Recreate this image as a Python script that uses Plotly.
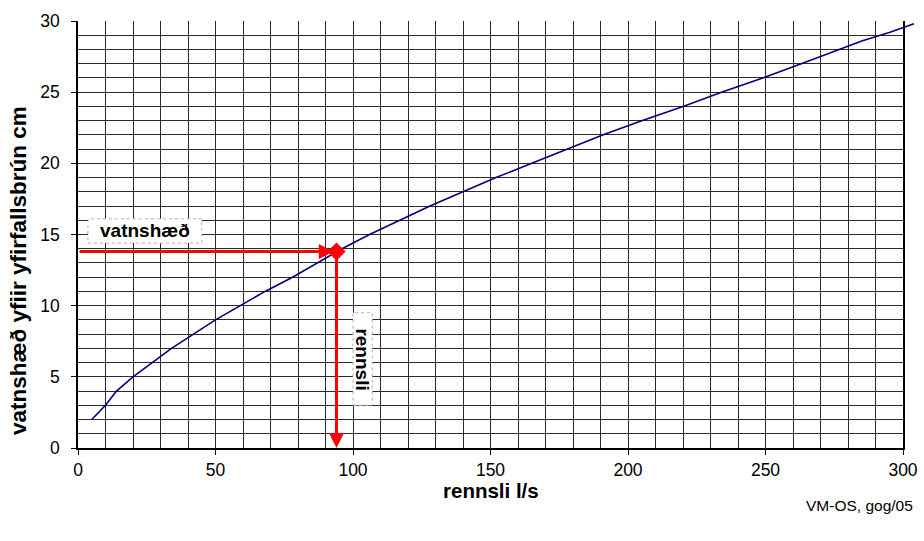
import plotly.graph_objects as go

# discharge (l/s) and water level above weir crest (cm)
rennsli = [5, 10, 14, 20, 27, 34, 42, 50, 59, 68, 78, 87, 96, 106, 117, 128, 140,
           152, 165, 178, 191, 205, 220, 234, 249, 263, 277, 285, 295, 304]
vatnshaed = [2, 3, 4, 5, 6, 7, 8, 9, 10, 11, 12, 13, 14, 15, 16, 17, 18,
             19, 20, 21, 22, 23, 24, 25, 26, 27, 28, 28.6, 29.2, 29.8]

# example reading
read_Q = 94
read_h = 13.8

x_ticks = [0, 50, 100, 150, 200, 250, 300]
y_ticks = [0, 5, 10, 15, 20, 25, 30]
X_MAX = 300
Y_MAX = 30

FONT = "Liberation Sans, Arial, sans-serif"
GRID = "#2a2a2a"

W, H = 924, 541
ML, MR, MT, MB = 78, 5, 21, 93
plot_w = 825                      # width of the gridded area in px
area_w = W - ML - MR
dom = plot_w / area_w             # main axes domain fraction
x2_max = X_MAX / dom              # same scale, extended so the curve can run past the frame

fig = go.Figure()
# curve drawn on an invisible companion axis so it is not clipped at x=300
fig.add_trace(go.Scatter(x=rennsli, y=vatnshaed, mode="lines", xaxis="x2", yaxis="y2",
                         line=dict(color="#00007f", width=1.6),
                         hoverinfo="skip", showlegend=False))
fig.add_trace(go.Scatter(x=[read_Q], y=[read_h], mode="markers", xaxis="x2", yaxis="y2",
                         marker=dict(symbol="diamond", size=14, color="#ff0000"),
                         showlegend=False, cliponaxis=False))

# red arrows
fig.add_annotation(x=read_Q - 1, y=read_h, ax=0, ay=read_h, xref="x", yref="y",
                   axref="x", ayref="y", text="", showarrow=True, arrowhead=2,
                   arrowsize=1, arrowwidth=3, arrowcolor="#ff0000", standoff=0)
fig.add_annotation(x=read_Q, y=0, ax=read_Q, ay=read_h, xref="x", yref="y",
                   axref="x", ayref="y", text="", showarrow=True, arrowhead=2,
                   arrowsize=1, arrowwidth=3, arrowcolor="#ff0000", standoff=0)

# label boxes (dotted borders)
fig.add_shape(type="rect", x0=3.6, x1=45, y0=14.4, y1=16.1, xref="x", yref="y",
              fillcolor="white", line=dict(color="#b0b0b0", width=1, dash="dot"),
              layer="above")
fig.add_shape(type="rect", x0=100, x1=107, y0=3.0, y1=9.5, xref="x", yref="y",
              fillcolor="white", line=dict(color="#b0b0b0", width=1, dash="dot"),
              layer="above")
fig.add_annotation(x=24.3, y=15.25, xref="x", yref="y", text="<b>vatnshæð</b>",
                   showarrow=False, font=dict(family=FONT, size=19, color="black"))
fig.add_annotation(x=103.5, y=6.25, xref="x", yref="y", text="<b>rennsli</b>",
                   showarrow=False, textangle=90,
                   font=dict(family=FONT, size=19, color="black"))

# axis titles and credit
fig.add_annotation(x=-0.0727, y=0.4145, xref="x domain", yref="y domain",
                   text="<b>vatnshæð yfiir yfirfallsbrún cm</b>", textangle=-90,
                   showarrow=False, xanchor="center", yanchor="middle",
                   font=dict(family=FONT, size=22.5, color="black"))
fig.add_annotation(x=0.5, y=-0.1, xref="x domain", yref="y domain",
                   text="<b>rennsli l/s</b>", showarrow=False,
                   xanchor="center", yanchor="middle",
                   font=dict(family=FONT, size=20.5, color="black"))
fig.add_annotation(x=0.947, y=-0.1335, xref="x domain", yref="y domain",
                   text="VM-OS, gog/05", showarrow=False,
                   xanchor="center", yanchor="middle",
                   font=dict(family=FONT, size=15.5, color="black"))

fig.update_layout(
    xaxis=dict(domain=[0, dom], range=[0, X_MAX], tickvals=x_ticks,
               ticktext=[str(v) for v in x_ticks],
               showgrid=True, gridcolor=GRID, gridwidth=1,
               minor=dict(dtick=10, showgrid=True, gridcolor=GRID, gridwidth=1),
               showline=True, linecolor="black", linewidth=2,
               ticks="outside", ticklen=5, tickcolor="black", automargin=False,
               zeroline=False, tickfont=dict(family=FONT, size=17.5, color="black")),
    yaxis=dict(domain=[0, 1], range=[0, Y_MAX], tickvals=y_ticks,
               ticktext=[str(v) for v in y_ticks],
               showgrid=True, gridcolor=GRID, gridwidth=1,
               minor=dict(dtick=1, showgrid=True, gridcolor=GRID, gridwidth=1),
               showline=True, linecolor="black", linewidth=1.5, mirror=True,
               ticks="outside", ticklen=5, tickcolor="black", automargin=False,
               ticklabelstandoff=8,
               zeroline=False, tickfont=dict(family=FONT, size=17.5, color="black")),
    xaxis2=dict(domain=[0, 1], range=[0, x2_max], anchor="y2", visible=False,
                showgrid=False, zeroline=False, fixedrange=True),
    yaxis2=dict(domain=[0, 1], range=[0, Y_MAX], anchor="x2", visible=False,
                showgrid=False, zeroline=False, fixedrange=True),
    width=W, height=H, autosize=False,
    margin=dict(l=ML, r=MR, t=MT, b=MB, pad=0),
    paper_bgcolor="white", plot_bgcolor="rgba(0,0,0,0)",
    font=dict(family=FONT, color="black"),
    showlegend=False,
)

fig.write_html("out.html",
               config={"displayModeBar": False, "responsive": False},
               post_script="document.body.style.margin='0';document.body.style.overflow='hidden';")
